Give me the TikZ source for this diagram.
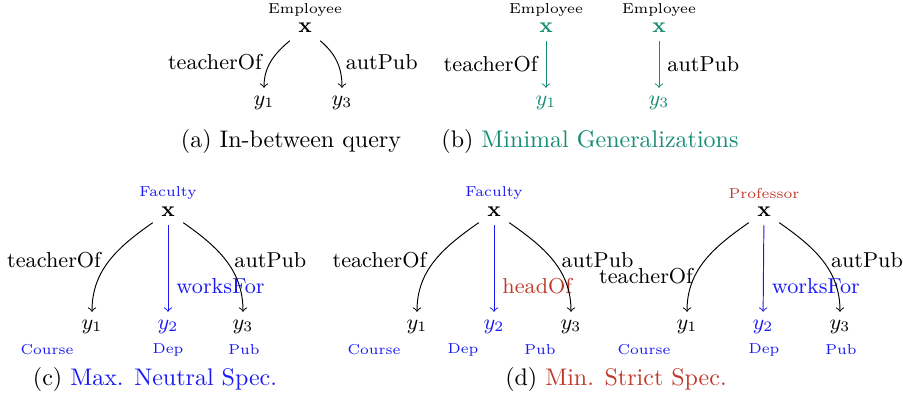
\documentclass[tikz,border=0pt]{standalone}
\usepackage{amssymb,amsmath}
\usepackage{color}
\usetikzlibrary{arrows,positioning}
\definecolor{mingen}{RGB}{22,140,115}
\definecolor{minstrict}{RGB}{192,57,43}
\definecolor{maxneutral}{RGB}{25,25,245}
\tikzset{typ/.style={font=\fontsize{6}{7}\selectfont},
  var/.style={font=\small},
  lbl/.style={font=\small},
  capt/.style={font=\normalsize}}

\begin{document}
\begin{tikzpicture}[x=0.4167pt,y=0.4167pt]
\useasboundingbox (0,0) rectangle (903,399);

% (a) in-between query
\node[typ] (ta) at (305,389) {Employee};
\node[var] (xa) at (305,371) {$\mathbf{x}$};
\node[var] (y1a) at (264,296) {$y_1$};
\node[var] (y3a) at (342,296) {$y_3$};
\draw[->] (xa) to[out=-140,in=90] node[lbl,anchor=east,pos=0.52] (la1) {teacherOf} (y1a);
\draw[->] (xa) to[out=-40,in=90] node[lbl,anchor=west,pos=0.52] (la3) {autPub} (y3a);
\node[capt] (capa) at (291,257) {(a) In-between query};

% (b) minimal generalizations
\node[typ] (tb1) at (546,389) {Employee};
\node[var,mingen] (xb1) at (546,371) {$\mathbf{x}$};
\node[var,mingen] (y1b) at (546,296) {$y_1$};
\draw[->,mingen] (xb1) -- node[lbl,black,left] (lb1) {teacherOf} (y1b);
\node[typ] (tb2) at (659,389) {Employee};
\node[var,mingen] (xb2) at (659,371) {$\mathbf{x}$};
\node[var,mingen] (y3b) at (659,296) {$y_3$};
\draw[->,mingen] (xb2) -- node[lbl,black,right] (lb3) {autPub} (y3b);
\node[capt] (capb) at (590,257) {(b) \textcolor{mingen}{Minimal Generalizations}};

% (c) max. neutral specialization
\node[typ,maxneutral] (tc) at (168,206) {Faculty};
\node[var] (xc) at (168,187) {$\mathbf{x}$};
\node[var] (y1c) at (92,72) {$y_1$};
\node[var,maxneutral] (y2c) at (168,72) {$y_2$};
\node[var] (y3c) at (243,72) {$y_3$};
\node[typ,maxneutral] (c1c) at (47,49) {Course};
\node[typ,maxneutral] (c2c) at (168,49) {Dep};
\node[typ,maxneutral] (c3c) at (244,49) {Pub};
\draw[->] (xc) to[out=-145,in=90] node[lbl,anchor=east,pos=0.5] (lc1) {teacherOf} (y1c);
\draw[->,maxneutral] (xc) -- node[lbl,anchor=west,pos=0.7] (lc2) {worksFor} (y2c);
\draw[->] (xc) to[out=-35,in=90] node[lbl,anchor=west,pos=0.5] (lc3) {autPub} (y3c);
\node[capt] (capc) at (155,19) {(c) \textcolor{maxneutral}{Max. Neutral Spec.}};

% (d) min. strict specializations
\node[typ,maxneutral] (td1) at (494,206) {Faculty};
\node[var] (xd1) at (494,187) {$\mathbf{x}$};
\node[var] (y1d) at (417,72) {$y_1$};
\node[var,maxneutral] (y2d) at (494,72) {$y_2$};
\node[var] (y3d) at (571,72) {$y_3$};
\node[typ,maxneutral] (c1d) at (374,49) {Course};
\node[typ,maxneutral] (c2d) at (463,49) {Dep};
\node[typ,maxneutral] (c3d) at (540,49) {Pub};
\draw[->] (xd1) to[out=-145,in=90] node[lbl,anchor=east,pos=0.5] (ld1) {teacherOf} (y1d);
\draw[->,maxneutral] (xd1) -- node[lbl,minstrict,anchor=west,pos=0.7] (ld2) {headOf} (y2d);
\draw[->] (xd1) to[out=-35,in=90] node[lbl,anchor=west,pos=0.5] (ld3) {autPub} (y3d);

\node[typ,minstrict] (te) at (764,205) {Professor};
\node[var] (xe) at (764,187) {$\mathbf{x}$};
\node[var] (y1e) at (687,72) {$y_1$};
\node[var,maxneutral] (y2e) at (763,72) {$y_2$};
\node[var] (y3e) at (840,72) {$y_3$};
\node[typ,maxneutral] (c1e) at (644,49) {Course};
\node[typ,maxneutral] (c2e) at (764,49) {Dep};
\node[typ,maxneutral] (c3e) at (841,49) {Pub};
\draw[->] (xe) to[out=-145,in=90] node[lbl,anchor=east,pos=0.68,inner sep=0.5pt] (le1) {teacherOf} (y1e);
\draw[->,maxneutral] (xe) -- node[lbl,anchor=west,pos=0.7] (le2) {worksFor} (y2e);
\draw[->] (xe) to[out=-35,in=90] node[lbl,anchor=west,pos=0.5] (le3) {autPub} (y3e);
\node[capt] (capd) at (616,19) {(d) \textcolor{minstrict}{Min. Strict Spec.}};
\end{tikzpicture}
\end{document}
